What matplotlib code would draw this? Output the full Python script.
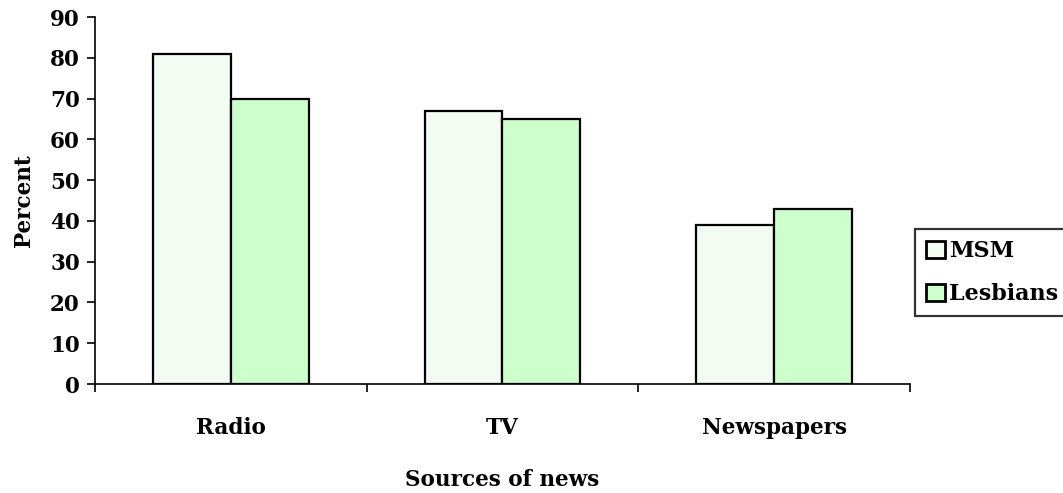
import matplotlib
matplotlib.use("Agg")
import matplotlib.pyplot as plt
import numpy as np

categories = ["Radio", "TV", "Newspapers"]
msm = [81, 67, 39]
lesbians = [70, 65, 43]
series_names = ["MSM", "Lesbians"]
yticks = list(range(0, 91, 10))

plt.rcParams["font.family"] = ["DejaVu Serif"]
plt.rcParams["font.weight"] = "bold"
FS = 15.5
LEG_FS = 16

fig = plt.figure(figsize=(10.63, 4.93), dpi=100)
ax = fig.add_axes([0.0894, 0.221, 0.7666, 0.7445])

x = np.arange(len(categories))
w = 0.287
ax.bar(x - w / 2, msm, width=w, facecolor="#f3fcf3", edgecolor="black",
       linewidth=1.6, label=series_names[0])
ax.bar(x + w / 2, lesbians, width=w, facecolor="#ccffcc", edgecolor="black",
       linewidth=1.6, label=series_names[1])

ax.set_xlim(-0.5, len(categories) - 0.5)
ax.set_ylim(0, 90)
ax.set_yticks(yticks)
ax.set_xticks(x)
ax.set_xticklabels(categories)
ax.set_xticks(np.arange(-0.5, len(categories), 1.0), minor=True)
ax.tick_params(axis="x", which="major", length=0, pad=24, labelsize=FS)
ax.tick_params(axis="x", which="minor", length=6, width=1.2, direction="out")
ax.tick_params(axis="y", length=6, width=1.2, direction="out", labelsize=FS, pad=5)
for lbl in ax.get_xticklabels() + ax.get_yticklabels():
    lbl.set_fontweight("bold")

for side in ("top", "right"):
    ax.spines[side].set_visible(False)
for side in ("left", "bottom"):
    ax.spines[side].set_linewidth(1.2)

ax.set_xlabel("Sources of news", fontsize=FS, fontweight="bold", labelpad=21)
ax.set_ylabel("Percent", fontsize=FS, fontweight="bold", labelpad=11)

# legend box runs off the right edge of the figure
leg = fig.legend(loc="upper left", bbox_to_anchor=(915 / 1063, 1 - 229 / 493),
                 frameon=True, fancybox=False, edgecolor="black", fontsize=LEG_FS,
                 handlelength=0.85, handleheight=0.85, handletextpad=0.2,
                 borderpad=0.5, borderaxespad=0, labelspacing=0.95)
leg.get_frame().set_linewidth(1.6)
for h in leg.legend_handles:
    h.set_linewidth(2.0)
for t in leg.get_texts():
    t.set_fontweight("bold")

fig.savefig("out.png", dpi=100)
